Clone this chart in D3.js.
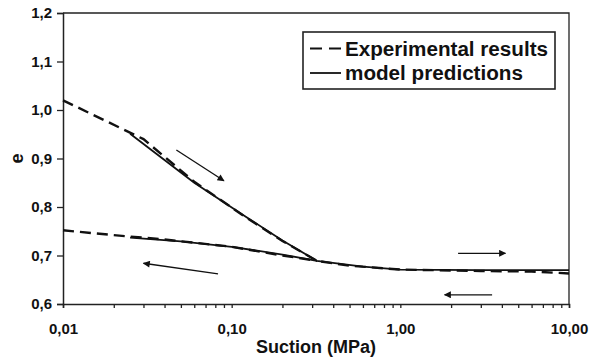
<!DOCTYPE html>
<html>
<head>
<meta charset="utf-8">
<script src="https://cdn.jsdelivr.net/npm/d3@7"></script>
<style>
  body { margin: 0; background: #fff; }
  svg { display: block; }
  svg text { font-family: "Liberation Sans", Arial, sans-serif !important; font-weight: 700; }
</style>
</head>
<body>
<div id="chart"></div>
<script>
// values (suction in MPa, void ratio e)
const xTicks = [0.01, 0.1, 1, 10];
const xTickLabels = ['0,01', '0,10', '1,00', '10,00'];
const yTicks = [0.6, 0.7, 0.8, 0.9, 1.0, 1.1, 1.2];

const expDrying = [[0.01, 1.02], [0.03, 0.94], [0.06, 0.852], [0.12, 0.78], [0.2, 0.73], [0.32, 0.689], [0.5, 0.679], [1, 0.671], [3, 0.668], [6, 0.667], [10, 0.663]];
const expWetting = [[0.01, 0.752], [0.02, 0.742], [0.04, 0.733], [0.1, 0.718], [0.2, 0.7], [0.32, 0.689]];
const modelDrying = [[0.025, 0.951], [0.06, 0.85], [0.12, 0.781], [0.2, 0.731], [0.32, 0.689], [0.6, 0.677], [1, 0.671], [3, 0.67], [10, 0.67]];
const modelWetting = [[0.025, 0.737], [0.05, 0.729], [0.1, 0.718], [0.2, 0.702], [0.32, 0.689]];

// arrows: [x1, y1, x2, y2]
const arrows = [
  [0.047, 0.9175, 0.09, 0.854],
  [0.083, 0.662, 0.03, 0.684],
  [2.2, 0.7045, 4.2, 0.7045],
  [3.5, 0.619, 1.83, 0.619]
];

const legendItems = [
  {label: 'Experimental results', dash: '12,7', len: 203},
  {label: 'model predictions', dash: null, len: 178}
];

const width = 603, height = 357;
const margin = {top: 13, right: 34, bottom: 53, left: 63};

const svg = d3.select('#chart').append('svg')
  .attr('width', width)
  .attr('height', height);

const x = d3.scaleLog()
  .domain([0.01, 10])
  .range([margin.left, width - margin.right]);

const y = d3.scaleLinear()
  .domain([0.6, 1.2])
  .range([height - margin.bottom, margin.top]);

svg.append('defs').append('marker')
  .attr('id', 'head')
  .attr('viewBox', '0 0 10 10')
  .attr('refX', 9)
  .attr('refY', 5)
  .attr('markerWidth', 9)
  .attr('markerHeight', 7)
  .attr('markerUnits', 'userSpaceOnUse')
  .attr('orient', 'auto')
  .append('path')
  .attr('d', 'M0,0 L10,5 L0,10 Z')
  .attr('fill', '#111');

// frame top and right
svg.append('path')
  .attr('d', `M${x(0.01)},${y(1.2)}H${x(10)}V${y(0.6)}`)
  .attr('fill', 'none')
  .attr('stroke', '#222')
  .attr('stroke-width', 1.3);

// x axis with minor ticks
const minor = [];
[0.01, 0.1, 1].forEach(d => { for (let k = 2; k <= 9; k++) minor.push(d * k); });

const xAxis = svg.append('g')
  .attr('transform', `translate(0,${y(0.6)})`)
  .call(d3.axisBottom(x).tickValues(minor.concat(xTicks)).tickSize(4).tickFormat(d => {
    const i = xTicks.indexOf(d);
    return i >= 0 ? xTickLabels[i] : '';
  }));
xAxis.select('.domain').attr('stroke', '#222').attr('stroke-width', 1.5);
xAxis.selectAll('.tick line').attr('stroke', '#222').attr('stroke-width', 1.3);
xAxis.selectAll('.tick text')
  .attr('y', 19)
  .attr('font-size', 15)
  .attr('fill', '#111');

const yAxis = svg.append('g')
  .attr('transform', `translate(${x(0.01)},0)`)
  .call(d3.axisLeft(y).tickValues(yTicks).tickSize(6).tickFormat(d => d3.format('.1f')(d).replace('.', ',')));
yAxis.select('.domain').attr('stroke', '#222').attr('stroke-width', 1.5);
yAxis.selectAll('.tick line').attr('stroke', '#222').attr('stroke-width', 1.3);
yAxis.selectAll('.tick text')
  .attr('x', -11)
  .attr('font-size', 15)
  .attr('fill', '#111');

svg.append('text')
  .attr('x', (x(0.01) + x(10)) / 2)
  .attr('y', 353)
  .attr('text-anchor', 'middle')
  .attr('font-size', 18)
  .attr('fill', '#111')
  .text('Suction (MPa)');

svg.append('text')
  .attr('transform', `translate(23,${y(0.9)}) rotate(-90)`)
  .attr('text-anchor', 'middle')
  .attr('font-size', 18)
  .attr('fill', '#111')
  .text('e');

const line = d3.line()
  .x(d => x(d[0]))
  .y(d => y(d[1]));

[expDrying, expWetting].forEach(s => {
  svg.append('path')
    .attr('d', line(s))
    .attr('fill', 'none')
    .attr('stroke', '#111')
    .attr('stroke-width', 2.4)
    .attr('stroke-dasharray', '11,6');
});

[modelDrying, modelWetting].forEach(s => {
  svg.append('path')
    .attr('d', line(s))
    .attr('fill', 'none')
    .attr('stroke', '#111')
    .attr('stroke-width', 1.8);
});

arrows.forEach(a => {
  svg.append('line')
    .attr('x1', x(a[0])).attr('y1', y(a[1]))
    .attr('x2', x(a[2])).attr('y2', y(a[3]))
    .attr('stroke', '#111')
    .attr('stroke-width', 1.3)
    .attr('marker-end', 'url(#head)');
});

// legend
const lg = svg.append('g').attr('transform', 'translate(303,32)');
lg.append('rect')
  .attr('width', 252)
  .attr('height', 57)
  .attr('fill', '#fff')
  .attr('stroke', '#222')
  .attr('stroke-width', 1.6);

legendItems.forEach((d, i) => {
  const cy = 16.5 + i * 24.5;
  lg.append('line')
    .attr('x1', 7).attr('x2', 38)
    .attr('y1', cy).attr('y2', cy)
    .attr('stroke', '#111')
    .attr('stroke-width', 1.8)
    .attr('stroke-dasharray', d.dash);
  lg.append('text')
    .attr('x', 42)
    .attr('y', cy + 7)
    .attr('font-size', 19.5)
    .attr('textLength', d.len)
    .attr('lengthAdjust', 'spacingAndGlyphs')
    .attr('fill', '#111')
    .text(d.label);
});
</script>
</body>
</html>
